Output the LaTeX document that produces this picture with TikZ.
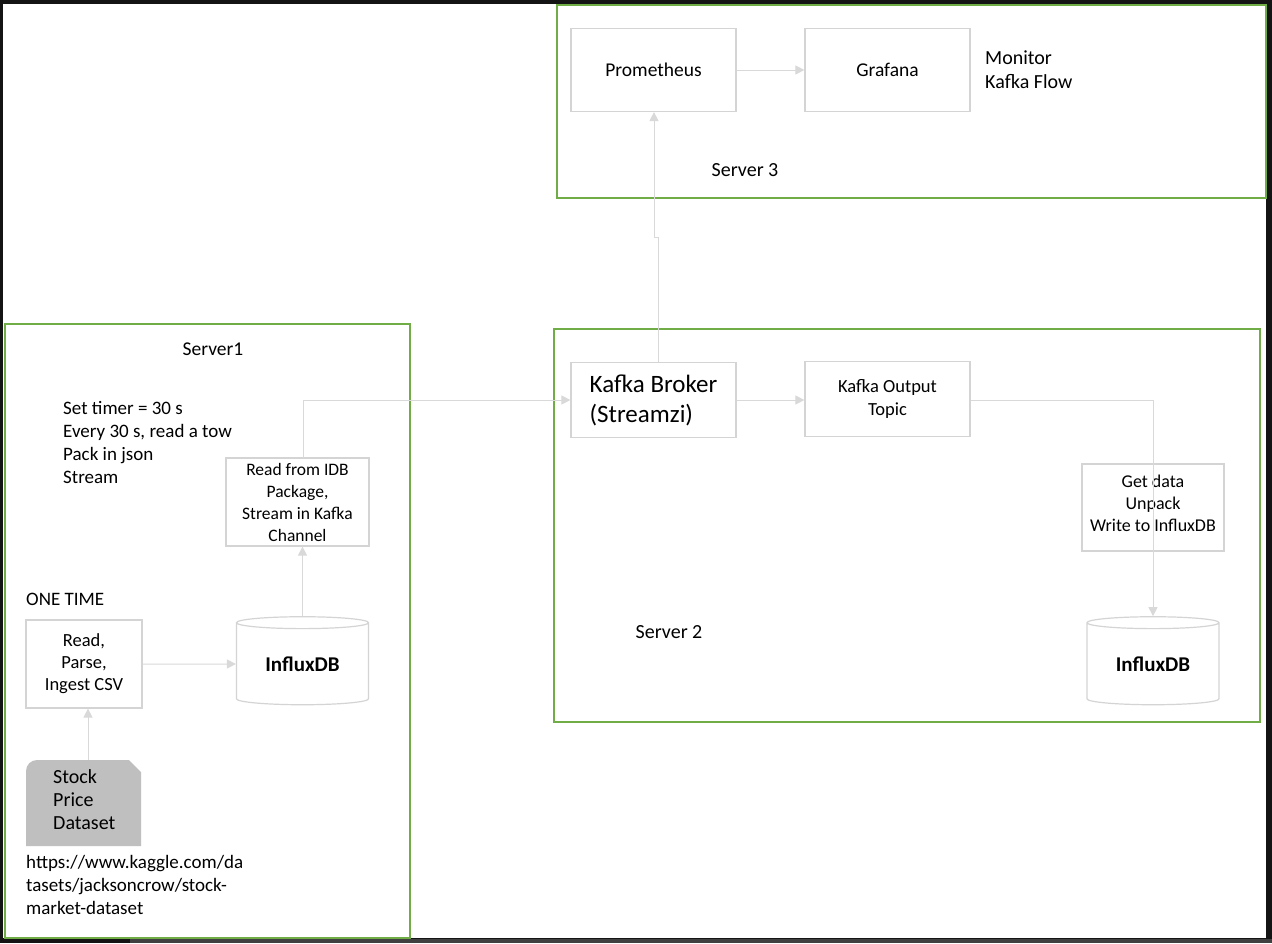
\documentclass[tikz,border=0pt]{standalone}
\usepackage{fontspec}
\setmainfont{Carlito}
\usetikzlibrary{arrows.meta,shapes.geometric}
\definecolor{servergreen}{HTML}{70AD47}
\definecolor{boxgray}{HTML}{D4D4D4}
\definecolor{linegray}{HTML}{D9D9D9}
\definecolor{docgray}{HTML}{BFBFBF}
\begin{document}
\begin{tikzpicture}[x=1pt,y=-1pt,
	server/.style={draw=servergreen,line width=1.6pt},
	procbox/.style={rectangle,draw=boxgray,line width=1.2pt,inner sep=2pt,align=center},
	dbcyl/.style={cylinder,shape border rotate=90,aspect=0.16,draw=boxgray,line width=1.2pt,
		minimum width=132pt,minimum height=88pt,inner sep=0pt,font=\fontsize{21}{24}\selectfont\bfseries},
	flow/.style={draw=linegray,line width=1pt,-{Triangle[width=9pt,length=9pt,color=linegray]}},
	txt/.style={inner sep=0pt,align=left}]
	% screen frame
	\fill[black!92] (0,0) rectangle (1272,943);
	\fill[white] (3,4) rectangle (1266,938);
	\fill[black!75] (130,939) rectangle (1272,943);
	% server boxes
	\draw[server] (557,5) rectangle (1266,198);
	\draw[server] (554,329) rectangle (1260,722);
	\draw[server] (5,324) rectangle (410,938);
	% server 3
	\node[procbox,minimum width=165pt,minimum height=83pt,font=\fontsize{19.5}{22}\selectfont](prom) at (653.5,70){Prometheus};
	\node[procbox,minimum width=165pt,minimum height=83pt,font=\fontsize{19.5}{22}\selectfont](graf) at (887.5,70){Grafana};
	\node[txt,anchor=west,font=\fontsize{20}{24}\selectfont](monitor) at (985,70){Monitor\\Kafka Flow};
	\node[txt,font=\fontsize{20}{22}\selectfont](srv3) at (745,170){Server 3};
	% server 2
	\node[procbox,minimum width=165pt,minimum height=75pt,font=\fontsize{25}{30}\selectfont,align=left](broker) at (653.5,400){Kafka Broker\\(Streamzi)};
	\node[procbox,minimum width=165pt,minimum height=75pt,font=\fontsize{18.5}{23}\selectfont](topic) at (887.5,399){Kafka Output\\Topic};
	\node[procbox,minimum width=142pt,minimum height=87pt,font=\fontsize{18}{22}\selectfont,text depth=9pt](getdata) at (1153,507.5){Get data\\Unpack\\Write to InfluxDB};
	\node[dbcyl](influxB) at (1153,664){InfluxDB};
	\node[txt,font=\fontsize{20}{22}\selectfont](srv2) at (669,632){Server 2};
	% server 1
	\node[txt,font=\fontsize{19.5}{22}\selectfont](srv1) at (213,349){Server1};
	\node[txt,anchor=north west,font=\fontsize{19}{23}\selectfont](timer) at (63,401){Set timer = 30 s\\Every 30 s, read a tow\\Pack in json\\Stream};
	\node[procbox,minimum width=143pt,minimum height=88pt,font=\fontsize{17.5}{22}\selectfont](readidb) at (297.5,502){Read from IDB\\Package,\\Stream in Kafka\\Channel};
	\node[txt,anchor=west,font=\fontsize{19}{22}\selectfont](onetime) at (26,599){ONE TIME};
	\node[procbox,minimum width=116pt,minimum height=88pt,font=\fontsize{18.5}{22}\selectfont](readcsv) at (84,664){Read,\\Parse,\\Ingest CSV};
	\node[dbcyl](influxA) at (302.5,664){InfluxDB};
	\fill[docgray] (26,846) -- (26,771) arc[start angle=180,end angle=270,radius=11] -- (129,760) -- (141,772) -- (141,846) -- cycle;
	\node[txt,anchor=north west,font=\fontsize{20}{23}\selectfont](stock) at (53,769){Stock\\Price\\Dataset};
	\coordinate (stocktop) at (88,760);
	\node[txt,anchor=north west,font=\fontsize{19}{23}\selectfont](url) at (26,855){https://www.kaggle.com/da\\tasets/jacksoncrow/stock-\\market-dataset};
	% flows
	\draw[flow](stocktop)--(stocktop |- readcsv.south);
	\draw[flow](readcsv.east)--(influxA.west);
	\draw[flow](influxA.top)--(influxA.top |- readidb.south);
	\draw[flow](303,458)--(303,400)--(broker.west);
	\draw[flow](broker.east)--(topic.west |- broker.east);
	\draw[flow](658,362)--(658,237)--(654,237)--(prom.south -| 654,0);
	\draw[flow](prom.east)--(graf.west);
	\draw[flow](topic.east |- broker.east)--(1153,400)--(influxB.top);
\end{tikzpicture}
\end{document}
